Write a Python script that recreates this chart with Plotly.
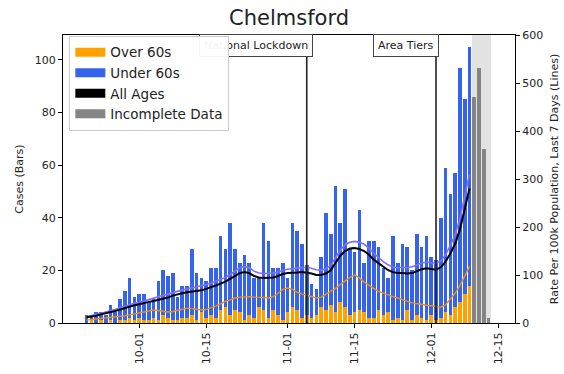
import pandas as pd
import plotly.graph_objects as go

# ---- data ----
start_date = "2020-09-20"
over60 = [0, 1, 0, 1, 0, 1, 0, 1, 1, 2, 1,
          2, 1, 1, 2, 1, 3, 2, 1, 1, 2, 2, 3, 1, 4, 2,
          3, 2, 5, 6, 3, 5, 4, 1, 3, 2, 6, 5, 2, 5, 3, 1,
          4, 6, 5, 2, 3, 2, 3, 6, 5, 7, 4, 8, 6, 3, 4,
          5, 4, 2, 2, 5, 3, 4, 1, 2, 1, 5, 1, 3, 2, 1,
          3, 1, 2, 4, 3, 6, 8, 11, 14]
under60 = [3, 2, 4, 3, 3, 6, 4, 8, 11, 15, 9,
           9, 10, 7, 7, 15, 17, 16, 18, 9, 12, 12, 25, 18, 13, 14,
           18, 19, 28, 22, 35, 23, 19, 25, 20, 15, 11, 33, 29, 16, 18, 22,
           13, 32, 30, 28, 19, 13, 10, 19, 37, 27, 48, 30, 45, 25, 23,
           38, 19, 29, 29, 24, 18, 13, 32, 21, 29, 24, 19, 31, 27, 32,
           22, 23, 38, 55, 46, 51, 89, 74, 91]
incomplete_dates = ["2020-12-10", "2020-12-11", "2020-12-12", "2020-12-13"]
incomplete_cases = [86, 97, 66, 2]

rate_all = [12, 13, 15, 18, 20, 22, 25, 28, 31, 35, 37,
            39, 42, 44, 46, 48, 50, 53, 57, 60, 62, 64, 65, 66, 68, 71,
            74, 78, 82, 86, 92, 98, 104, 106, 104, 98, 95, 94, 94, 95, 98, 102,
            104, 104, 105, 106, 105, 103, 100, 100, 103, 110, 125, 140, 150, 155, 156,
            154, 150, 142, 132, 124, 116, 110, 106, 104, 104, 103, 104, 108, 112, 114,
            112, 111, 116, 128, 145, 165, 195, 235, 280]
rate_under60 = [13, 15, 17, 20, 23, 25, 28, 32, 35, 39, 41,
                43, 46, 49, 51, 54, 57, 60, 64, 67, 69, 71, 73, 75, 77, 80,
                83, 87, 90, 95, 101, 108, 115, 118, 115, 108, 104, 103, 103, 104, 106, 110,
                112, 113, 115, 116, 116, 114, 111, 110, 113, 120, 136, 152, 163, 168, 170,
                168, 164, 156, 145, 136, 128, 121, 117, 115, 116, 115, 117, 121, 125, 127,
                125, 124, 129, 142, 162, 184, 218, 262, 310]
rate_over60 = [6, 7, 8, 9, 10, 11, 12, 13, 15, 17, 19,
               21, 23, 25, 27, 26, 24, 23, 24, 26, 29, 31, 30, 28, 27, 28,
               31, 35, 40, 45, 48, 52, 54, 55, 55, 54, 54, 53, 52, 55, 62, 70,
               73, 70, 64, 60, 58, 55, 52, 54, 60, 65, 72, 80, 88, 95, 100,
               94, 85, 78, 72, 66, 62, 58, 55, 52, 48, 45, 42, 40, 38, 37,
               36, 34, 33, 38, 50, 62, 78, 98, 118]

events = [("2020-11-05", "National Lockdown", 6), ("2020-12-02", "Area Tiers", 3)]
tick_dates = ["2020-10-01", "2020-10-15", "2020-11-01", "2020-11-15", "2020-12-01", "2020-12-15"]

dates = pd.date_range(start_date, periods=len(over60), freq="D")

ORANGE = "#ffa200"
BLUE = "#3563ee"
PURPLE = "#8070f0"
GREY = "#858585"
FONT = "DejaVu Sans"
DAY_MS = 86400000

fig = go.Figure()
fig.add_trace(go.Bar(x=dates, y=over60, marker=dict(color=ORANGE, line_width=0),
                     width=0.76 * DAY_MS, showlegend=False))
fig.add_trace(go.Bar(x=dates, y=under60, marker=dict(color=BLUE, line_width=0),
                     width=0.76 * DAY_MS, showlegend=False))
fig.add_trace(go.Bar(x=pd.to_datetime(incomplete_dates), y=incomplete_cases,
                     marker=dict(color=GREY, line_width=0),
                     width=0.76 * DAY_MS, showlegend=False))

fig.add_trace(go.Scatter(x=dates, y=rate_under60, yaxis="y2", mode="lines",
                         line=dict(color=PURPLE, width=1.6), showlegend=False))
fig.add_trace(go.Scatter(x=dates, y=rate_over60, yaxis="y2", mode="lines",
                         line=dict(color="#f09000", width=1.4), showlegend=False))
fig.add_trace(go.Scatter(x=dates, y=rate_all, yaxis="y2", mode="lines",
                         line=dict(color="black", width=2), showlegend=False))

# legend handles
for name, col in [("Over 60s", ORANGE), ("Under 60s", BLUE),
                  ("All Ages", "black"), ("Incomplete Data", GREY)]:
    fig.add_trace(go.Scatter(x=[None], y=[None], mode="lines", name=name,
                             line=dict(color=col, width=9)))

shapes = [dict(type="rect", xref="x", yref="paper",
               x0=pd.Timestamp("2020-12-09 12:00"), x1=pd.Timestamp("2020-12-13 12:00"),
               y0=0, y1=1, fillcolor="#e2e2e2", line_width=0, layer="below")]
annotations = []
for d, label, shift in events:
    shapes.append(dict(type="line", xref="x", yref="paper", x0=d, x1=d, y0=0, y1=1,
                       line=dict(color="#222", width=1.6), layer="above"))
    annotations.append(dict(x=d, y=1, xref="x", yref="paper", text=label,
                            xanchor="right", yanchor="top", xshift=shift, yshift=1,
                            showarrow=False, bgcolor="white", bordercolor="#444",
                            borderwidth=1, borderpad=4,
                            font=dict(family=FONT, size=11, color="#222")))

fig.update_layout(
    width=564, height=374,
    margin=dict(l=63, r=49, t=35, b=51),
    paper_bgcolor="white", plot_bgcolor="white",
    barmode="stack", bargap=0.2,
    font=dict(family=FONT, size=10, color="#222"),
    title=dict(text="Chelmsford", x=0.5, xref="paper", xanchor="center",
               y=0.952, yanchor="middle",
               font=dict(family=FONT, size=21, color="#222")),
    shapes=shapes, annotations=annotations,
    legend=dict(x=0.014, y=0.997, xanchor="left", yanchor="top", traceorder="normal",
                bgcolor="rgba(255,255,255,0.95)", bordercolor="#cccccc", borderwidth=1,
                font=dict(family=FONT, size=13.5, color="#222"), itemwidth=30,
                tracegroupgap=0),
    xaxis=dict(type="date", range=[pd.Timestamp("2020-09-15 02:00"), pd.Timestamp("2020-12-18 12:00")],
               tickvals=tick_dates, tickformat="%m-%d", tickangle=-90, automargin=False,
               showgrid=False, zeroline=False, showline=True, mirror=True,
               linecolor="black", linewidth=1, ticks="outside", ticklen=4,
               tickcolor="black", tickfont=dict(size=11)),
    yaxis=dict(range=[0, 109.5], tickvals=[0, 20, 40, 60, 80, 100], automargin=False,
               showgrid=False, zeroline=False, showline=True, linecolor="black",
               linewidth=1, ticks="outside", ticklen=4, tickcolor="black",
               tickfont=dict(size=11),
               title=dict(text="Cases (Bars)", font=dict(size=11), standoff=8)),
    yaxis2=dict(range=[0, 600], tickvals=[0, 100, 200, 300, 400, 500, 600],
                overlaying="y", side="right", showgrid=False, zeroline=False,
                automargin=False,
                showline=True, linecolor="black", linewidth=1, ticks="outside",
                ticklen=4, tickcolor="black", tickfont=dict(size=11),
                title=dict(text="Rate Per 100k Population, Last 7 Days (Lines)",
                           font=dict(size=11), standoff=8)),
)

post = """
document.body.style.margin = '0';
var gd = document.getElementById('{plot_id}');
function lowerAnnotations() {
  var anns = gd.querySelectorAll('g.annotation');
  anns.forEach(function (a) {
    var p = a.parentNode;
    if (p && p.firstChild !== a) { p.insertBefore(a, p.firstChild); }
  });
}
lowerAnnotations();
setTimeout(lowerAnnotations, 30);
setTimeout(lowerAnnotations, 300);
if (gd.on) { gd.on('plotly_afterplot', function () { setTimeout(lowerAnnotations, 0); }); }
"""
fig.write_html("out.html", post_script=post, config={"displayModeBar": False})
